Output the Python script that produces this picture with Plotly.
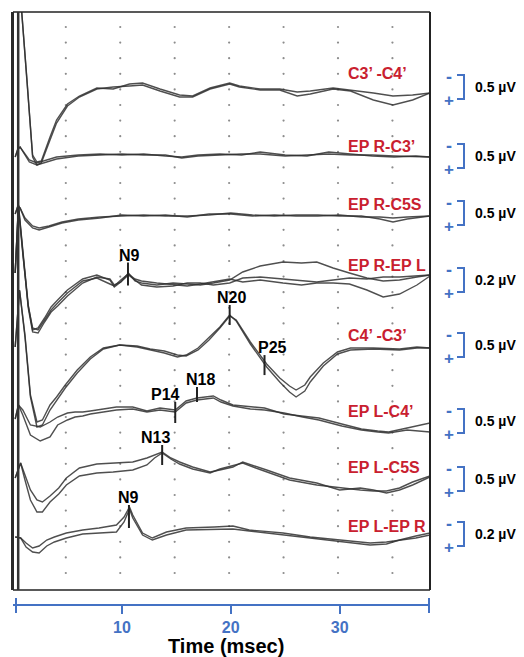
import numpy as np
import plotly.graph_objects as go

# ---------------- data ----------------
CHANNELS = ["C3’ -C4’", "EP R-C3’", "EP R-C5S", "EP R-EP L",
            "C4’ -C3’", "EP L-C4’", "EP L-C5S", "EP L-EP R"]
SCALE_LABELS = ["0.5 µV", "0.5 µV", "0.5 µV", "0.2 µV",
                "0.5 µV", "0.5 µV", "0.5 µV", "0.2 µV"]
TIME_TICKS = [10, 20, 30]

# amplitudes in display units (upward = negative polarity), per replicate
C1_T = [0.5, 0.8, 1.3, 1.8, 2.2, 2.6, 3.4, 4.0, 5.0, 6.1, 7.7, 9.2, 10.7, 11.9, 13.5,
        15.3, 16.5, 18.1, 19.9, 20.8, 22.7, 24.5, 26.1, 27.3, 29.4, 31.0, 33.1, 34.9, 36.7, 38.3]
C1_A = [97, 75, 5, -70, -78, -76, -53, -36, -19, -10, -2, 0, 1, 2, -4,
        -10, -10, -2, 3, 0, -3, -3, -9, -7, -2, -4, -13, -18, -13, -6]
C1_B = [97, 75, 3, -68, -75, -74, -50, -33, -17, -9, -1, -2, 3, 4, -2,
        -8, -9, -1, 4, 1, -2, -2, -5, -4, -1, -3, -6, -9, -8, -6]

C2_T = [0.2, 0.45, 0.65, 1.0, 1.5, 2.2, 3.0, 4.0, 6.0, 8.0, 10.0, 12.0, 14.0, 15.5,
        17.0, 19.0, 21.0, 22.7, 25.0, 27.0, 29.0, 31.0, 33.0, 35.0, 37.0, 38.3]
C2_A = [0, 8, 10, 5, -3, -6, -3, 0, 2, 3, 2, 3, 1, 0, 2, 3, 2, 5, 2, 1, 5, 3, 1, 0, 1, 0]
C2_B = [0, 8, 10, 4, -5, -8, -5, -2, 1, 2, 3, 2, 2, -1, 1, 2, 3, 3, 1, 2, 3, 2, 2, 1, 0, 0]

C3_T = [0.2, 0.45, 0.65, 1.1, 1.8, 2.4, 3.3, 4.5, 6.0, 8.0, 10.0, 12.0, 14.0, 16.0,
        18.0, 20.0, 22.0, 24.0, 26.0, 28.0, 30.0, 32.0, 33.7, 34.9, 36.2, 38.3]
C3_A = [0, 8, 6, -4, -12, -14, -12, -8, -5, -3, -2, -1, -2, -2,
        -1, 1, -1, -2, -1, -1, -2, -2, -5, -8, -5, -2]
C3_B = [0, 8, 6, -6, -14, -16, -13, -9, -6, -4, -1, -2, -1, -3,
        0, 0, -2, -1, -2, -2, -1, -3, -3, -4, -3, -2]

C4_T = [0.2, 0.5, 0.9, 1.4, 1.8, 2.3, 2.9, 3.5, 4.1, 5.0, 6.4, 7.7, 8.9, 9.3, 9.9, 10.6,
        11.2, 11.8, 13.2, 14.7, 16.0, 17.2, 18.4, 19.9, 21.1, 22.7, 24.8, 26.5, 27.9,
        29.4, 30.9, 32.5, 34.0, 35.5, 37.1, 38.3]
C4_A = [0, 68, 23, -32, -57, -55, -45, -34, -27, -17, -6, -2, -7, -14, -9, 0,
        -8, -10, -12, -10, -11, -12, -10, -7, 1, 7, 11, 10, 11, 5, 0, -5, -8, -7, -4, -2]
C4_B = [0, 68, 21, -35, -59, -60, -49, -39, -33, -23, -10, -4, -6, -12, -9, -2,
        -7, -12, -14, -13, -10, -10, -12, -10, -5, -4, -6, -8, -9, -7, -5, -6, -4, -4, -3, -2]
C4_C = [0, 65, 19, -33, -55, -57, -47, -37, -30, -20, -8, -5, -11, -13, -7, -1,
        -6, -8, -10, -12, -13, -11, -9, -6, -9, -7, -10, -12, -10, -10, -11, -17, -24, -21, -12, -3]

C5_T = [0.2, 0.6, 1.1, 1.6, 2.2, 2.7, 3.4, 4.0, 4.8, 5.9, 7.1, 8.3, 9.8, 11.4, 12.6, 13.9,
        15.1, 15.9, 17.0, 18.0, 19.0, 19.9, 20.5, 21.8, 23.3, 24.5, 25.4, 26.0, 26.8, 27.3,
        28.5, 29.8, 31.0, 33.1, 35.5, 37.1, 38.3]
C5_A = [0, 57, 12, -48, -75, -73, -58, -50, -38, -23, -10, -1, 2, 1, -2, -4,
        -8, -9, -3, 7, 19, 31, 27, 5, -17, -31, -39, -43, -38, -30, -16, -5, -1, -1, -2, 0, -1]
C5_B = [0, 57, 10, -50, -80, -78, -63, -54, -41, -26, -12, -2, 2, 0, -3, -6,
        -10, -8, -1, 9, 20, 32, 26, 3, -20, -35, -45, -50, -44, -35, -19, -7, -3, -2, -3, -1, -1]

C6_T = [0.2, 0.5, 0.9, 1.6, 2.5, 3.4, 4.1, 5.0, 5.7, 6.4, 7.1, 7.7, 9.5, 11.0, 12.3, 13.5,
        14.9, 15.9, 16.9, 18.4, 19.1, 20.2, 21.8, 23.1, 24.9, 26.6, 28.1, 30.2, 32.0, 33.5,
        34.5, 36.2, 38.3]
C6_A = [0, 14, 9, -6, -8, -3, 2, 6, 7, 7, 8, 9, 12, 12, 8, 11,
        9, 18, 21, 23, 19, 14, 12, 11, 5, 3, 1, -5, -10, -12, -13, -9, -4]
C6_B = [0, 14, 4, -16, -22, -18, -6, -1, 2, 3, 5, 6, 9, 10, 7, 9,
        7, 16, 19, 21, 17, 13, 10, 9, 6, 2, -1, -7, -11, -13, -14, -11, -13]

C7_T = [0.2, 0.7, 1.1, 1.6, 2.2, 2.7, 3.4, 4.2, 4.9, 6.1, 7.7, 9.2, 11.0, 12.3, 13.0, 13.7,
        14.5, 15.3, 16.5, 18.1, 19.0, 20.2, 21.1, 22.3, 23.3, 25.4, 27.9, 30.0, 31.9, 33.1,
        34.3, 35.5, 36.7, 38.3]
C7_A = [0, 15, 3, -12, -22, -24, -18, -10, 0, 10, 14, 15, 16, 20, 23, 26,
        20, 16, 11, 6, 8, 11, 16, 12, 8, 0, -5, -12, -10, -12, -15, -12, -7, 1]
C7_B = [0, 15, -2, -22, -34, -34, -24, -16, -7, 2, 5, 6, 8, 13, 20, 25,
        19, 14, 9, 5, 9, 12, 15, 10, 6, -2, -7, -10, -12, -13, -13, -10, -4, 2]

C8_T = [0.2, 0.7, 1.2, 1.8, 2.4, 3.1, 3.8, 4.9, 6.4, 7.9, 9.5, 10.2, 10.7, 11.0, 11.9,
        12.8, 14.1, 15.9, 18.5, 20.2, 21.7, 24.8, 27.3, 30.0, 32.8, 34.3, 35.5, 37.0, 38.3]
C8_A = [0, -1, -6, -11, -9, -3, 0, 4, 7, 9, 12, 20, 30, 22, 4,
        -1, 5, 9, 10, 11, 7, 4, 0, -3, -6, -5, -3, -1, 2]
C8_B = [0, -1, -10, -15, -16, -9, -5, -1, 3, 4, 5, 15, 28, 19, 2,
        -3, 2, 7, 8, 8, 6, 2, -1, -4, -8, -7, -3, 1, 4]

TRACES = [(C1_T, [C1_A, C1_B]), (C2_T, [C2_A, C2_B]), (C3_T, [C3_A, C3_B]),
          (C4_T, [C4_A, C4_B, C4_C]), (C5_T, [C5_A, C5_B]), (C6_T, [C6_A, C6_B]),
          (C7_T, [C7_A, C7_B]), (C8_T, [C8_A, C8_B])]

# labelled peaks
MARKER_NAMES = ["N9", "N20", "P25", "P14", "N18", "N13", "N9"]
MARKER_CHANNEL = [3, 4, 4, 5, 5, 6, 7]
MARKER_LATENCY = [10.56, 19.9, 23.1, 14.9, 16.9, 13.7, 10.65]

# ---------------- layout / style ----------------
BODY = 8                                # default page margin around the plot div
W, H = 524 - BODY, 657 - BODY
PLOT_L, PLOT_R = 13, 430                # target screen columns of the frame
PLOT_TOP, PLOT_BOT, AXIS_ROW = 12, 590, 605
ML, MR, MT = PLOT_L - BODY, 524 - PLOT_R, PLOT_TOP - BODY
MB = 657 - AXIS_ROW
PH = H - MT - MB
YSPAN = PLOT_BOT - PLOT_TOP
XMAX = 38.3


def py(yfig):                           # screen row -> y-axis units
    return PLOT_BOT - yfig


def px(xfig):                           # screen column -> paper x
    return (xfig - PLOT_L) / (PLOT_R - PLOT_L)


def pp(yfig):                           # screen row -> paper y
    return (AXIS_ROW - yfig) / PH


BASE_ROW = [87, 157, 214, 273, 347, 419, 478, 537]       # channel baselines
LABEL_ROW = [73, 146, 204, 265, 335, 411, 467, 526]      # red channel names
BAR_ROW = [87, 156, 213, 280, 345, 421, 479, 534]        # scale bars
TICK_UP = [11, 11, 6, 8, 11, 7, 3]
TICK_DOWN = [12, 9, 14, 13, 4, 13, 20]
LABEL_DX = [0.1, 0.2, 0.7, -0.85, 0.36, -0.57, 0.0]

TRACE_COLOR = "rgba(48,48,48,0.85)"
RED = "#C9202F"
BLUE = "#4472C4"
FONT = "Liberation Sans"

fig = go.Figure()

# grid dots
gx, gy = np.meshgrid(np.arange(7) * 5 + 4.85, py(27 + np.arange(36) * 15.6))
fig.add_trace(go.Scatter(x=gx.ravel(), y=gy.ravel(), mode="markers",
                         marker=dict(size=2.2, color="#8c8c8c"),
                         hoverinfo="skip", showlegend=False))

# traces
for ch, (t, reps) in enumerate(TRACES):
    base = py(BASE_ROW[ch])
    for r in reps:
        fig.add_trace(go.Scatter(x=t, y=[base + v for v in r], mode="lines",
                                 line=dict(color=TRACE_COLOR, width=1.4),
                                 hoverinfo="skip", showlegend=False))

shapes = []
annotations = []

# peak ticks and labels
for name, ch, lat, up, dn, dx in zip(MARKER_NAMES, MARKER_CHANNEL, MARKER_LATENCY,
                                     TICK_UP, TICK_DOWN, LABEL_DX):
    t, reps = TRACES[ch]
    yv = py(BASE_ROW[ch]) + float(np.interp(lat, t, reps[0]))
    shapes.append(dict(type="line", xref="x", yref="y", x0=lat, x1=lat,
                       y0=yv - dn, y1=yv + up, line=dict(color="#222", width=2)))
    annotations.append(dict(x=lat + dx, y=yv + up, xref="x", yref="y", text=name,
                            showarrow=False, xanchor="center", yanchor="bottom", yshift=-3,
                            font=dict(family=FONT, size=16, color="black", weight="bold")))

# channel names and scale bars
for ch in range(8):
    annotations.append(dict(x=px(346), y=py(LABEL_ROW[ch]), xref="paper", yref="y",
                            text=CHANNELS[ch], showarrow=False, xanchor="left",
                            yanchor="middle",
                            font=dict(family=FONT, size=16, color=RED, weight="bold")))
    c = BAR_ROW[ch]
    shapes.append(dict(type="path", xref="paper", yref="y",
                       path=f"M{px(457)},{py(c - 12)} L{px(464)},{py(c - 12)} "
                            f"L{px(464)},{py(c + 12)} L{px(457)},{py(c + 12)}",
                       line=dict(color=BLUE, width=2)))
    annotations.append(dict(x=px(449), y=py(c - 10), xref="paper", yref="y", text="-",
                            showarrow=False, xanchor="center", yanchor="middle",
                            font=dict(family=FONT, size=18, color=BLUE, weight="bold")))
    annotations.append(dict(x=px(449), y=py(c + 13), xref="paper", yref="y", text="+",
                            showarrow=False, xanchor="center", yanchor="middle",
                            font=dict(family=FONT, size=17, color=BLUE, weight="bold")))
    annotations.append(dict(x=px(473), y=py(c), xref="paper", yref="y",
                            text=SCALE_LABELS[ch], showarrow=False, xanchor="left",
                            yanchor="middle",
                            font=dict(family=FONT, size=14, color="black", weight="bold")))

# frame
frame_col = "#222"
shapes += [
    dict(type="line", xref="paper", yref="y domain", x0=0, x1=1, y0=1, y1=1,
         line=dict(color=frame_col, width=1.5)),
    dict(type="line", xref="paper", yref="y domain", x0=0, x1=1, y0=0, y1=0,
         line=dict(color=frame_col, width=1.5)),
    dict(type="line", xref="paper", yref="y domain", x0=1, x1=1, y0=0, y1=1,
         line=dict(color=frame_col, width=2)),
    dict(type="line", xref="paper", yref="y domain", x0=px(12.5), x1=px(12.5), y0=0, y1=1,
         line=dict(color="#2a2a2a", width=3)),
    dict(type="line", xref="paper", yref="y domain", x0=px(18.2), x1=px(18.2), y0=0, y1=1,
         line=dict(color="#333", width=2.5)),
]
# end caps of time axis
for xc in (16, 429):
    shapes.append(dict(type="line", xref="paper", yref="paper", x0=px(xc), x1=px(xc),
                       y0=pp(598), y1=pp(613), line=dict(color=BLUE, width=2)))

annotations.append(dict(x=px(226), y=pp(646), xref="paper", yref="paper",
                        text="Time (msec)", showarrow=False, xanchor="center",
                        yanchor="middle",
                        font=dict(family=FONT, size=20, color="black", weight="bold")))

fig.update_layout(
    width=W, height=H, margin=dict(l=ML, r=MR, t=MT, b=MB, pad=0),
    paper_bgcolor="white", plot_bgcolor="white",
    shapes=shapes, annotations=annotations,
    xaxis=dict(range=[0, XMAX], anchor="free", position=0, showline=True,
               linecolor=BLUE, linewidth=2, ticks="outside", ticklen=8, tickwidth=2,
               tickcolor=BLUE, tickvals=TIME_TICKS, showgrid=False, zeroline=False,
               tickfont=dict(family=FONT, size=16, color=BLUE, weight="bold")),
    yaxis=dict(range=[0, YSPAN], domain=[(AXIS_ROW - PLOT_BOT) / PH, 1], visible=False,
               showgrid=False, zeroline=False),
)

fig.write_html("out.html")
